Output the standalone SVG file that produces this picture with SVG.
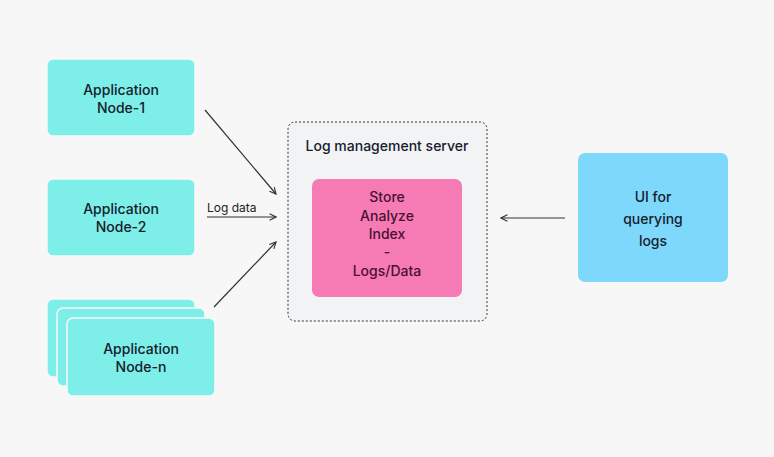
<svg xmlns="http://www.w3.org/2000/svg" width="774" height="457" viewBox="0 0 774 457">
<defs>
<marker id="arr" viewBox="0 0 10 10" refX="9" refY="5" markerWidth="8" markerHeight="8" markerUnits="userSpaceOnUse" orient="auto">
<path d="M1,1 L9,5 L1,9" fill="none" stroke="#333" stroke-width="1.4"/>
</marker>
<style>
.app{fill:#7eeee8;stroke:#f7f7f7;stroke-width:1.5}
.t{font-family:Inter,"Open Sans",sans-serif;font-size:14px;font-weight:500;fill:#15202b;text-anchor:middle}
.pt{font-family:Inter,"Open Sans",sans-serif;font-size:14px;font-weight:500;fill:#4a1030;text-anchor:middle}
.c{stroke:#333;stroke-width:1.2;fill:none;marker-end:url(#arr)}
.lbl{font-family:Inter,"Open Sans",sans-serif;font-size:12px;fill:#222}
</style>
</defs>
<rect width="774" height="457" fill="#f7f7f7"/>
<g id="node1">
<rect class="app" x="47" y="59" width="148" height="77" rx="6"/>
<text class="t" x="121" y="95">Application</text>
<text class="t" x="121" y="113">Node-1</text>
</g>
<g id="node2">
<rect class="app" x="47" y="179" width="148" height="77" rx="6"/>
<text class="t" x="121" y="214">Application</text>
<text class="t" x="121" y="232">Node-2</text>
</g>
<g id="noden">
<rect class="app" x="47" y="299" width="148" height="78" rx="6"/>
<rect class="app" x="57" y="308" width="148" height="78" rx="6"/>
<rect class="app" x="67" y="318" width="148" height="78" rx="6"/>
<text class="t" x="141" y="354">Application</text>
<text class="t" x="141" y="372">Node-n</text>
</g>
<g id="server">
<rect x="288" y="122" width="199" height="199" rx="7" fill="#f2f3f5" stroke="#333" stroke-width="1" stroke-dasharray="2,2"/>
<text class="t" x="387" y="151">Log management server</text>
</g>
<g id="store">
<rect x="312" y="179" width="150" height="118" rx="7" fill="#f67bb5"/>
<text class="pt" x="387" y="202">Store</text>
<text class="pt" x="387" y="221">Analyze</text>
<text class="pt" x="387" y="239">Index</text>
<text class="pt" x="387" y="257">-</text>
<text class="pt" x="387" y="276">Logs/Data</text>
</g>
<g id="ui">
<rect x="578" y="153" width="150" height="129" rx="7" fill="#7dd8fb"/>
<text class="t" x="653" y="202">UI for</text>
<text class="t" x="653" y="224">querying</text>
<text class="t" x="653" y="246">logs</text>
</g>
<g id="connectors">
<line class="c" x1="205" y1="110" x2="276" y2="194"/>
<line class="c" x1="207" y1="217" x2="276" y2="217"/>
<line class="c" x1="214" y1="307" x2="276" y2="242"/>
<line class="c" x1="565" y1="218" x2="501" y2="218"/>
<text class="lbl" x="207" y="212">Log data</text>
</g>
</svg>
